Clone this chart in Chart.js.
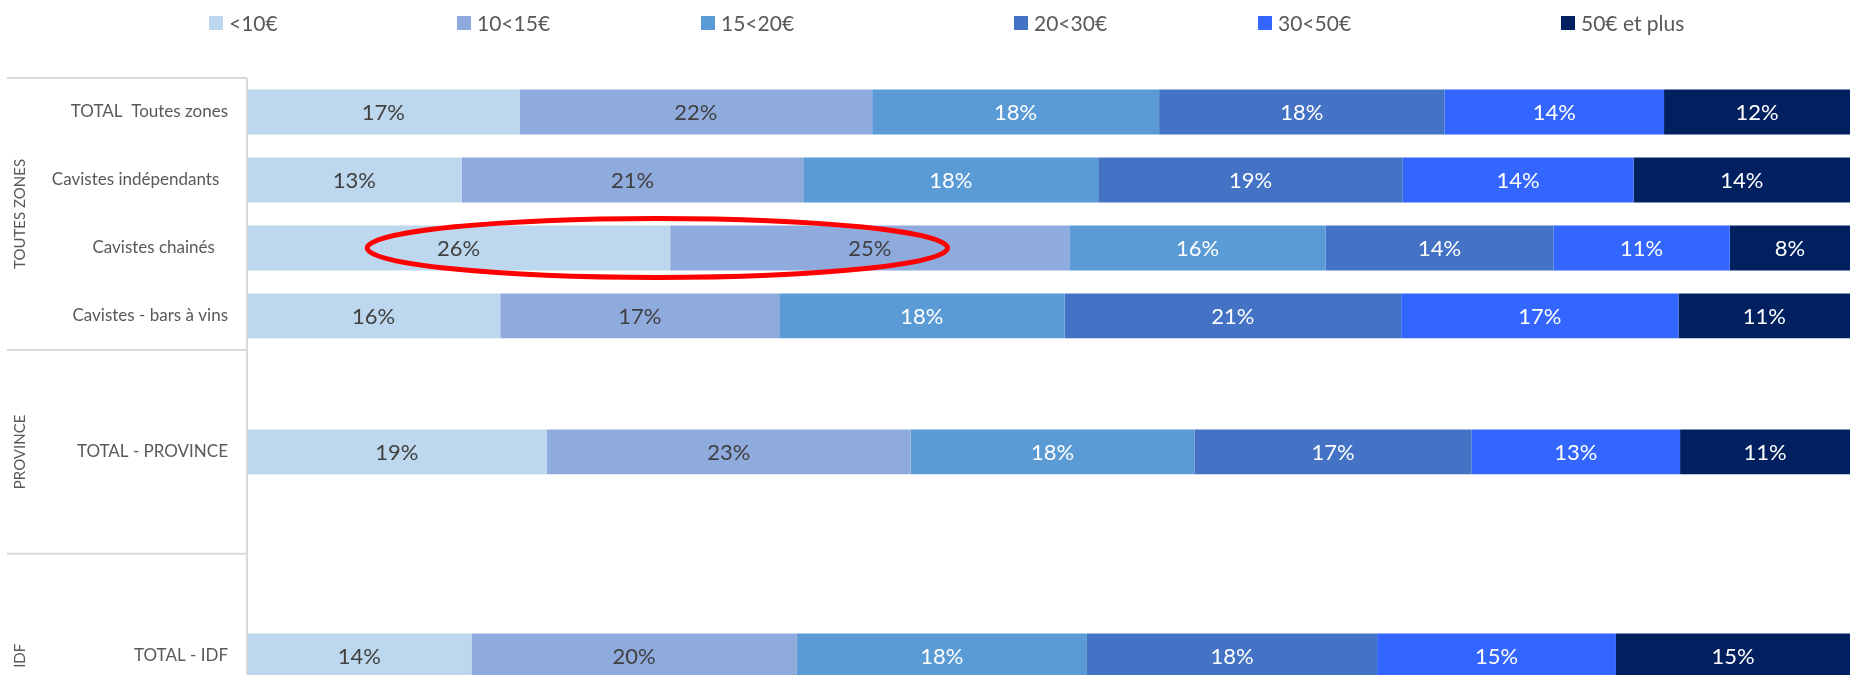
<!DOCTYPE html>
<html lang="fr">
<head>
<meta charset="utf-8">
<title>Répartition des prix</title>
<script src="https://cdn.jsdelivr.net/npm/chart.js@4.4.1/dist/chart.umd.min.js"></script>
<style>
  html, body {
    margin: 0;
    padding: 0;
    background: #ffffff;
    overflow: hidden;
  }

  body {
    position: relative;
    width: 1850px;
    height: 675px;
    font-family: Lato, "Open Sans", sans-serif;
  }

  #legend {
    position: absolute;
    top: 10px;
    left: 209px;
    display: grid;
    grid-template-columns: 248px 244px 313px 244px 303px auto;
    color: #595959;
    font-size: 21px;
    line-height: 26px;
    z-index: 2;
  }

  .legend-item {
    display: flex;
    align-items: center;
    white-space: nowrap;
  }

  .legend-box {
    width: 14px;
    height: 14px;
    margin-right: 6px;
  }

  #priceChart {
    position: absolute;
    top: 0;
    left: 0;
  }
</style>
</head>
<body>
<div id="legend"></div>
<canvas id="priceChart" width="1850" height="787"></canvas>

<script>
// categories (empty slots keep the gaps between groups)
const categories = [
  "TOTAL  Toutes zones",
  "Cavistes indépendants  ",
  "Cavistes chainés   ",
  "Cavistes - bars à vins",
  "",
  "TOTAL - PROVINCE",
  "",
  "",
  "TOTAL - IDF",
  ""
];

const groups = [
  { label: "TOUTES ZONES", from: 0, to: 3 },
  { label: "PROVINCE", from: 4, to: 6 },
  { label: "IDF", from: 7, to: 9 }
];

const seriesLabels = ["<10€", "10<15€", "15<20€", "20<30€", "30<50€", "50€ et plus"];
const seriesColors = ["#BDD7EE", "#8FAADC", "#5B9BD5", "#4472C4", "#3366FF", "#002060"];
const labelColors = ["#404040", "#404040", "#ffffff", "#ffffff", "#ffffff", "#ffffff"];

// shares in %, one array per price band
const under10 = [17.0, 13.4, 26.4, 15.8, null, 18.7, null, null, 14.0, null];
const from10to15 = [22.0, 21.3, 24.9, 17.4, null, 22.7, null, null, 20.3, null];
const from15to20 = [17.9, 18.4, 16.0, 17.8, null, 17.7, null, null, 18.1, null];
const from20to30 = [17.8, 19.0, 14.2, 21.0, null, 17.3, null, null, 18.1, null];
const from30to50 = [13.7, 14.4, 11.0, 17.3, null, 13.0, null, null, 14.9, null];
const over50 = [11.6, 13.5, 7.5, 10.7, null, 10.6, null, null, 14.6, null];

const seriesValues = [under10, from10to15, from15to20, from20to30, from30to50, over50];

// red ellipse around the "Cavistes chainés" low-price bands
const highlight = { category: 2, centerValue: 25.6, halfWidthValue: 18.1, halfHeightSlot: 0.435 };

const FONT_FAMILY = "Lato, 'Open Sans', sans-serif";
const GRID_COLOR = "#D9D9D9";
const TEXT_COLOR = "#595959";

document.addEventListener("DOMContentLoaded", () => {
  document.fonts.load("20px Lato").then(initChart, initChart);
});

function initChart() {
  renderLegend();

  const canvas = document.getElementById("priceChart");

  new Chart(canvas, {
    type: "bar",
    data: {
      labels: categories,
      datasets: seriesValues.map((values, index) => ({
        label: seriesLabels[index],
        data: values,
        backgroundColor: seriesColors[index],
        borderWidth: 0,
        barPercentage: 0.66,
        categoryPercentage: 1
      }))
    },
    options: {
      indexAxis: "y",
      responsive: false,
      maintainAspectRatio: false,
      devicePixelRatio: 1,
      animation: false,
      layout: {
        padding: { top: 78, right: 0, bottom: 0, left: 0 }
      },
      plugins: {
        legend: { display: false },
        tooltip: { enabled: false }
      },
      scales: {
        x: {
          stacked: true,
          min: 0,
          max: 100,
          display: false
        },
        y: {
          stacked: true,
          grid: { display: false, drawTicks: false },
          border: { display: false },
          ticks: {
            autoSkip: false,
            padding: 19,
            color: TEXT_COLOR,
            font: { family: FONT_FAMILY, size: 17 }
          },
          afterFit(scale) {
            scale.width = 247;
          }
        }
      }
    },
    plugins: [groupAxisPlugin, barLabelPlugin, highlightPlugin]
  });
}

function renderLegend() {
  const legend = document.getElementById("legend");

  legend.innerHTML = seriesLabels
    .map((label, index) => `
      <span class="legend-item">
        <span class="legend-box" style="background:${seriesColors[index]}"></span>
        <span>${label}</span>
      </span>
    `)
    .join("");
}

const groupAxisPlugin = {
  id: "groupAxis",
  afterDraw(chart) {
    const { ctx, chartArea } = chart;
    const yScale = chart.scales.y;
    const halfSlot = (yScale.getPixelForValue(1) - yScale.getPixelForValue(0)) / 2;

    ctx.save();
    ctx.strokeStyle = GRID_COLOR;
    ctx.lineWidth = 2;

    ctx.beginPath();
    ctx.moveTo(chartArea.left, chartArea.top);
    ctx.lineTo(chartArea.left, chartArea.bottom);
    ctx.stroke();

    ctx.fillStyle = TEXT_COLOR;
    ctx.font = `15px ${FONT_FAMILY}`;
    ctx.textAlign = "center";
    ctx.textBaseline = "middle";

    groups.forEach((group) => {
      const top = yScale.getPixelForValue(group.from) - halfSlot;
      const bottom = yScale.getPixelForValue(group.to) + halfSlot;

      ctx.beginPath();
      ctx.moveTo(7, top);
      ctx.lineTo(chartArea.left, top);
      ctx.stroke();

      ctx.save();
      ctx.translate(20, (top + bottom) / 2);
      ctx.rotate(-Math.PI / 2);
      ctx.fillText(group.label, 0, 0);
      ctx.restore();
    });

    ctx.restore();
  }
};

const barLabelPlugin = {
  id: "barLabels",
  afterDatasetsDraw(chart) {
    const { ctx } = chart;

    ctx.save();
    ctx.font = `22px ${FONT_FAMILY}`;
    ctx.textAlign = "center";
    ctx.textBaseline = "middle";

    chart.data.datasets.forEach((dataset, datasetIndex) => {
      const meta = chart.getDatasetMeta(datasetIndex);
      ctx.fillStyle = labelColors[datasetIndex];

      meta.data.forEach((bar, index) => {
        const value = dataset.data[index];
        if (value === null || value === undefined) return;

        const center = bar.getCenterPoint();
        ctx.fillText(`${Math.round(value)}%`, center.x, center.y + 1);
      });
    });

    ctx.restore();
  }
};

const highlightPlugin = {
  id: "highlight",
  afterDraw(chart) {
    const { ctx } = chart;
    const xScale = chart.scales.x;
    const yScale = chart.scales.y;

    const cx = xScale.getPixelForValue(highlight.centerValue);
    const cy = yScale.getPixelForValue(highlight.category);
    const rx = xScale.getPixelForValue(highlight.centerValue + highlight.halfWidthValue) - cx;
    const slot = yScale.getPixelForValue(1) - yScale.getPixelForValue(0);
    const ry = slot * highlight.halfHeightSlot;

    ctx.save();
    ctx.strokeStyle = "#FF0000";
    ctx.lineWidth = 5;
    ctx.beginPath();
    ctx.ellipse(cx, cy, rx, ry, 0, 0, Math.PI * 2);
    ctx.stroke();
    ctx.restore();
  }
};
</script>
</body>
</html>
